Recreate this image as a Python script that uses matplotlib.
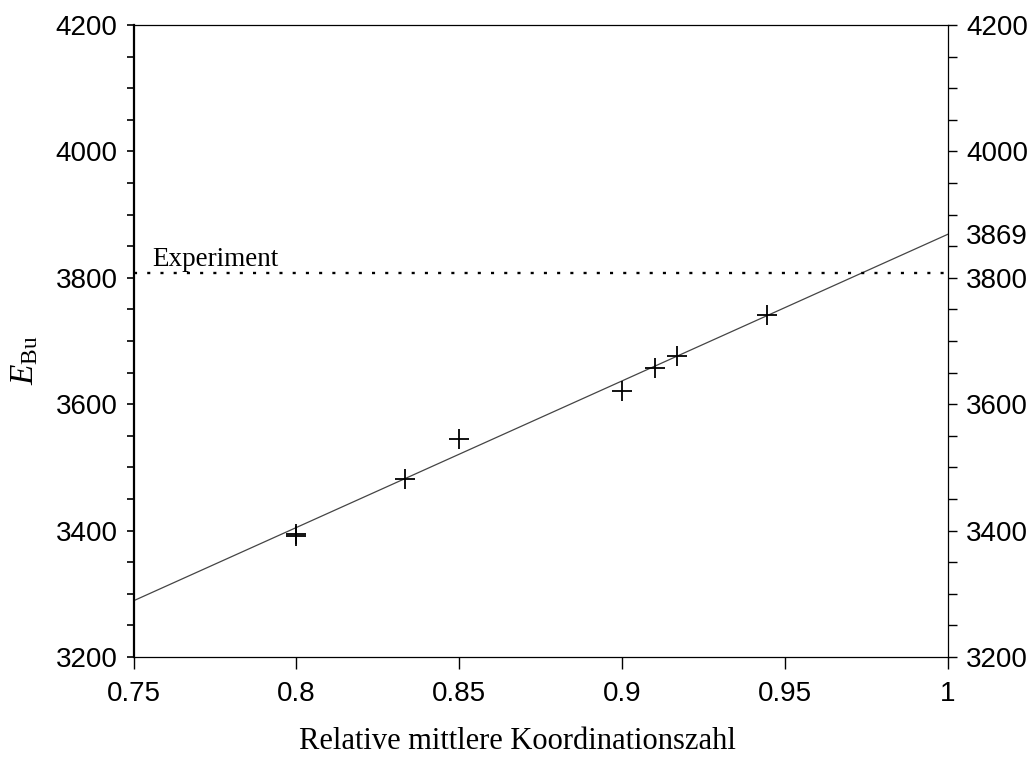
import matplotlib
matplotlib.use("Agg")
import matplotlib.pyplot as plt
import numpy as np

# Messpunkte
koordination = [0.8, 0.8, 0.8333, 0.85, 0.9, 0.91, 0.9167, 0.9444]
e_bu = [3392, 3395, 3481, 3545, 3621, 3657, 3677, 3741]

# Ausgleichsgerade
fit_x = [0.75, 1.0]
fit_y = [3289, 3869]

experiment_wert = 3807

x_ticks = [0.75, 0.8, 0.85, 0.9, 0.95, 1.0]
x_labels = ['0.75', '0.8', '0.85', '0.9', '0.95', '1']
y_ticks = [3200, 3400, 3600, 3800, 4000, 4200]
y_ticks_rechts = [3200, 3400, 3600, 3800, 3869, 4000, 4200]

plt.rcParams['font.family'] = ['Liberation Sans', 'DejaVu Sans']
plt.rcParams['mathtext.fontset'] = 'custom'
plt.rcParams['mathtext.rm'] = 'Liberation Serif'
plt.rcParams['mathtext.it'] = 'Liberation Serif:italic'

fig = plt.figure(figsize=(10.32, 7.58), dpi=100)
ax = fig.add_axes([0.1294, 0.1332, 0.7892, 0.8338])

ax.plot(fit_x, fit_y, color='#444444', linewidth=0.9)
ax.plot(fit_x, [experiment_wert, experiment_wert], color='black',
        linewidth=1.7, linestyle=(0, (1.3, 4.3)))
ax.plot(koordination, e_bu, linestyle='none', marker='+', markersize=15,
        markeredgewidth=1.3, color='black')

ax.text(0.7557, 3819, 'Experiment', family=['Liberation Serif'], fontsize=19.5)

ax.set_xlim(0.75, 1.0)
ax.set_ylim(3200, 4200)
ax.set_xticks(x_ticks)
ax.set_xticklabels(x_labels)
ax.set_yticks(y_ticks)
ax.set_yticks(np.arange(3200, 4201, 50), minor=True)
ax.tick_params(axis='both', which='major', labelsize=20, direction='out',
               color='black')
ax.tick_params(axis='x', length=8.5, width=1, pad=9)
ax.tick_params(axis='y', which='both', length=5, width=1.2, pad=6.5)

for side in ['top', 'right', 'bottom']:
    ax.spines[side].set_linewidth(0.9)
ax.spines['left'].set_linewidth(1.6)

ax2 = ax.twinx()
ax2.set_ylim(3200, 4200)
ax2.set_yticks(y_ticks_rechts)
ax2.set_yticklabels([str(v) for v in y_ticks_rechts])
ax2.set_yticks(np.arange(3200, 4201, 50), minor=True)
ax2.tick_params(axis='y', which='both', length=6.5, width=1, labelsize=20,
                direction='out', pad=6.5)
ax2.yaxis.get_major_ticks()[4].tick2line.set_visible(False)
for side in ax2.spines:
    ax2.spines[side].set_visible(False)

ax.set_xlabel('Relative mittlere Koordinationszahl', family=['Liberation Serif'],
              fontsize=22)
ax.xaxis.set_label_coords(0.471, -0.11)
ax.set_ylabel(r'$E_{\rm Bu}$', fontsize=24)
ax.yaxis.set_label_coords(-0.1145, 0.47)

plt.savefig('out.png', dpi=100, facecolor='white')
plt.close()
